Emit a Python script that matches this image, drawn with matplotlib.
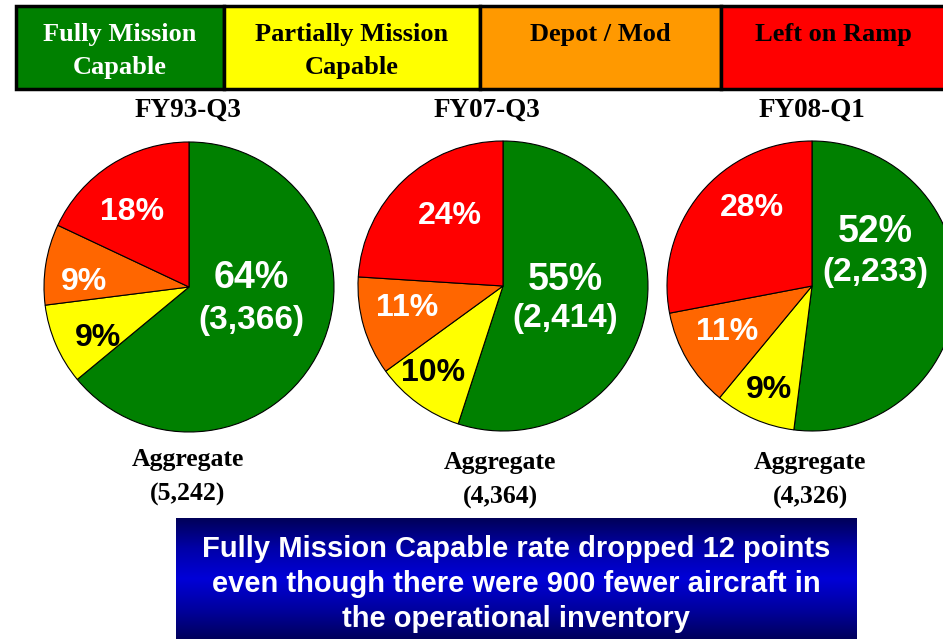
import numpy as np
import matplotlib.pyplot as plt
from matplotlib.patches import Rectangle
from matplotlib.colors import LinearSegmentedColormap

W, H = 943, 639

# data
periods = ["FY93-Q3", "FY07-Q3", "FY08-Q1"]
categories = ["Fully Mission\nCapable", "Partially Mission\nCapable", "Depot / Mod", "Left on Ramp"]
fmc_pct = [64, 55, 52]
pmc_pct = [9, 10, 9]
depot_pct = [9, 11, 11]
ramp_pct = [18, 24, 28]
fmc_count = [3366, 2414, 2233]
aggregate = [5242, 4364, 4326]
message = ("Fully Mission Capable rate dropped 12 points\n"
           "even though there were 900 fewer aircraft in\n"
           "the operational inventory")

slice_colors = ["#008000", "#FFFF00", "#FF6600", "#FF0000"]
legend_colors = ["#008000", "#FFFF00", "#FF9900", "#FF0000"]
legend_text_colors = ["white", "black", "black", "black"]

# layout (pixels, y down)
pie_centers = [(189, 287), (503, 286), (812, 286)]
radius = 145
legend_edges = [16, 224, 480, 721, 960]
legend_top, legend_bot = 6, 89
# label offsets from pie centre: fmc pct, fmc count, pmc, depot, ramp
offsets = [
    [(62, -9), (62, 33), (-91, 51), (-105, -5), (-57, -75)],
    [(62, -6), (62, 32), (-70, 87), (-96, 22), (-53, -70)],
    [(63, -54), (63, -14), (-43, 104), (-85, 46), (-60, -78)],
]
title_pos = [(188, 110), (487, 110), (812, 110)]
agg_pos = [(188, 460), (500, 463), (810, 463)]

serif = "Liberation Serif"
sans = "Liberation Sans"

fig = plt.figure(figsize=(W / 100, H / 100), dpi=100)
ax = fig.add_axes([0, 0, 1, 1])

def Y(y):
    return H - y

# legend bar
for i, cat in enumerate(categories):
    x0, x1 = legend_edges[i], legend_edges[i + 1]
    ax.add_patch(Rectangle((x0, Y(legend_bot)), x1 - x0, legend_bot - legend_top,
                           facecolor=legend_colors[i], edgecolor="black", lw=2.5, zorder=2))
    ax.text((x0 + x1) / 2 if i < 3 else 833, Y(34) if "\n" not in cat else Y(51),
            cat, ha="center", va="center", fontsize=19, fontweight="bold",
            family=serif, color=legend_text_colors[i], linespacing=1.55, zorder=3)

# pies
for k in range(3):
    cx, cy = pie_centers[k]
    vals = [fmc_pct[k], pmc_pct[k], depot_pct[k], ramp_pct[k]]
    ax.pie(vals, colors=slice_colors, startangle=90, counterclock=False,
           center=(cx, Y(cy)), radius=radius, frame=False,
           wedgeprops=dict(edgecolor="black", linewidth=0.8))
    off = offsets[k]
    texts = [f"{fmc_pct[k]}%", f"({fmc_count[k]:,})", f"{pmc_pct[k]}%",
             f"{depot_pct[k]}%", f"{ramp_pct[k]}%"]
    cols = ["white", "white", "black", "white", "white"]
    sizes = [27, 24, 23, 23, 23]
    for t, (dx, dy), c, s in zip(texts, off, cols, sizes):
        ax.text(cx + dx, Y(cy + dy), t, ha="center", va="center", fontsize=s,
                fontweight="bold", family=sans, color=c, zorder=4)
    tx, ty = title_pos[k]
    ax.text(tx, Y(ty), periods[k], ha="center", va="center", fontsize=19.5,
            fontweight="bold", family=serif)
    axx, ayy = agg_pos[k]
    ax.text(axx, Y(ayy + 17), f"Aggregate\n({aggregate[k]:,})", ha="center",
            va="center", fontsize=18.5, fontweight="bold", family=serif, linespacing=1.6)

# message box with blue gradient
cmap = LinearSegmentedColormap.from_list("blu", ["#000058", "#0000A8", "#0000D8", "#0000A0", "#00005C"])
grad = np.linspace(0, 1, 256).reshape(-1, 1)
ax.imshow(grad, extent=(176, 857, Y(H), Y(518)), cmap=cmap, aspect="auto", zorder=1)
ax.text((176 + 857) / 2, Y(584), message, ha="center", va="center", fontsize=21,
        fontweight="bold", family=sans, color="white", linespacing=1.32, zorder=3)

ax.set_xlim(0, W)
ax.set_ylim(0, H)
ax.set_aspect("auto")
ax.axis("off")
fig.savefig("out.png", dpi=100)
